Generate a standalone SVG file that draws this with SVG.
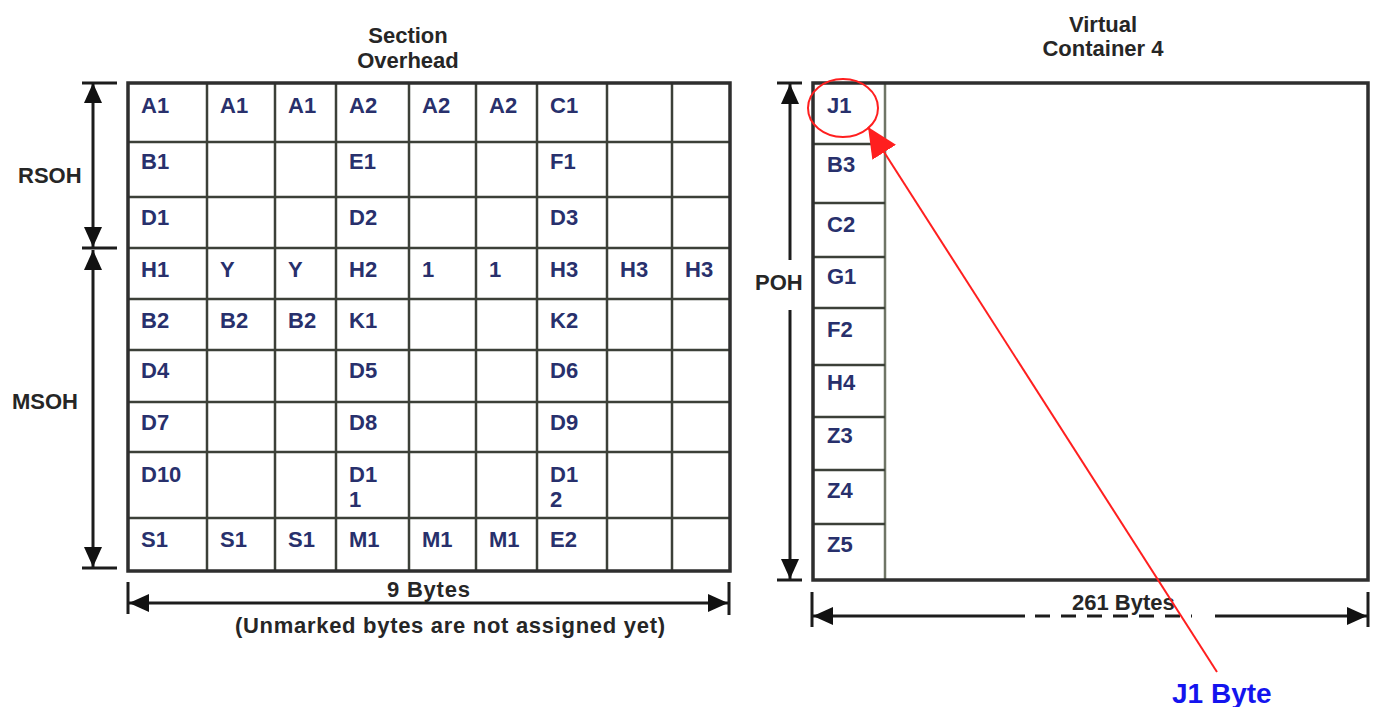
<svg xmlns="http://www.w3.org/2000/svg" width="1377" height="707" viewBox="0 0 1377 707">
  <style>
    text { font-family: "Liberation Sans", Arial, sans-serif; font-weight: bold; }
    .title { font-size: 22px; fill: #262626; }
    .cell { font-size: 22px; fill: #28306c; }
    .grid { stroke: #3c4038; stroke-width: 2.5; fill: none; }
    .frame { stroke: #2e2e2e; stroke-width: 3.5; fill: none; }
    .dim { stroke: #1c1c1c; stroke-width: 3; fill: none; }
    .pointer { stroke: #ff1f1f; stroke-width: 2; fill: none; }
  </style>
  <defs>
    <marker id="ah" viewBox="0 0 20 18" refX="20" refY="9" markerWidth="20" markerHeight="18" markerUnits="userSpaceOnUse" orient="auto-start-reverse">
      <path d="M0,0 L20,9 L0,18 z" fill="#111"/>
    </marker>
    <marker id="ahRed" viewBox="0 0 30 28" refX="30" refY="14" markerWidth="30" markerHeight="28" markerUnits="userSpaceOnUse" orient="auto">
      <path d="M0,0 L30,14 L0,28 z" fill="#ff1f1f"/>
    </marker>
  </defs>
  <rect width="1377" height="707" fill="#ffffff"/>

  <!-- Section overhead: 9 x 9 byte grid -->
  <g id="section-overhead">
    <text class="title" x="408" y="43" text-anchor="middle">Section</text>
    <text class="title" x="408" y="68" text-anchor="middle">Overhead</text>
    <g class="grid">
      <path d="M207,83V571M275,83V571M336,83V571M409,83V571M476,83V571M537,83V571M607,83V571M672,83V571"/>
      <path d="M128,142H730M128,197H730M128,248H730M128,299H730M128,350H730M128,402H730M128,452H730M128,518H730"/>
    </g>
    <rect class="frame" x="128" y="83" width="602" height="488"/>
    <g class="cell">
      <text x="141" y="113">A1</text><text x="220" y="113">A1</text><text x="288" y="113">A1</text>
      <text x="349" y="113">A2</text><text x="422" y="113">A2</text><text x="489" y="113">A2</text>
      <text x="550" y="113">C1</text>
      <text x="141" y="169">B1</text><text x="349" y="169">E1</text><text x="550" y="169">F1</text>
      <text x="141" y="225">D1</text><text x="349" y="225">D2</text><text x="550" y="225">D3</text>
      <text x="141" y="277">H1</text><text x="220" y="277">Y</text><text x="288" y="277">Y</text>
      <text x="349" y="277">H2</text><text x="422" y="277">1</text><text x="489" y="277">1</text>
      <text x="550" y="277">H3</text><text x="620" y="277">H3</text><text x="685" y="277">H3</text>
      <text x="141" y="328">B2</text><text x="220" y="328">B2</text><text x="288" y="328">B2</text>
      <text x="349" y="328">K1</text><text x="550" y="328">K2</text>
      <text x="141" y="378">D4</text><text x="349" y="378">D5</text><text x="550" y="378">D6</text>
      <text x="141" y="430">D7</text><text x="349" y="430">D8</text><text x="550" y="430">D9</text>
      <text x="141" y="482">D10</text>
      <text x="349" y="482">D1</text><text x="349" y="507">1</text>
      <text x="550" y="482">D1</text><text x="550" y="507">2</text>
      <text x="141" y="547">S1</text><text x="220" y="547">S1</text><text x="288" y="547">S1</text>
      <text x="349" y="547">M1</text><text x="422" y="547">M1</text><text x="489" y="547">M1</text>
      <text x="550" y="547">E2</text>
    </g>
  </g>

  <!-- Virtual container 4 with its path overhead column -->
  <g id="virtual-container-4">
    <text class="title" x="1103" y="32" text-anchor="middle">Virtual</text>
    <text class="title" x="1103" y="56" text-anchor="middle">Container 4</text>
    <path d="M885,83V580" stroke="#6f7566" stroke-width="2.5" fill="none"/>
    <path class="grid" d="M813,144H885M813,203H885M813,257H885M813,308H885M813,365H885M813,417H885M813,470H885M813,524H885"/>
    <rect class="frame" x="813" y="83" width="555" height="497"/>
    <g class="cell">
      <text x="827" y="113">J1</text>
      <text x="827" y="172">B3</text>
      <text x="827" y="232">C2</text>
      <text x="827" y="284">G1</text>
      <text x="827" y="337">F2</text>
      <text x="827" y="390">H4</text>
      <text x="827" y="443">Z3</text>
      <text x="827" y="498">Z4</text>
      <text x="827" y="552">Z5</text>
    </g>
  </g>

  <!-- Dimension labels -->
  <g id="labels">
    <text class="title" x="18" y="183">RSOH</text>
    <text class="title" x="12" y="409">MSOH</text>
    <text class="title" x="755" y="290">POH</text>
    <text class="title" x="387" y="597" textLength="83">9 Bytes</text>
    <text class="title" x="235" y="633" textLength="430">(Unmarked bytes are not assigned yet)</text>
    <text class="title" x="1072" y="610">261 Bytes</text>
    <text x="1172" y="703" font-size="28" fill="#1414ee">J1 Byte</text>
  </g>

  <!-- Connectors: dimension arrows and the J1 pointer -->
  <g id="connectors">
    <g class="dim">
      <!-- RSOH / MSOH -->
      <path d="M82,83H117M82,248H117M82,568H117"/>
      <line x1="93" y1="83" x2="93" y2="247" marker-start="url(#ah)" marker-end="url(#ah)"/>
      <line x1="93" y1="250" x2="93" y2="567" marker-start="url(#ah)" marker-end="url(#ah)"/>
      <!-- POH -->
      <path d="M777,83H802M777,580H802"/>
      <line x1="790" y1="84" x2="790" y2="260" marker-start="url(#ah)"/>
      <line x1="790" y1="310" x2="790" y2="579" marker-end="url(#ah)"/>
      <!-- 9 bytes -->
      <path d="M128,582V614M729,582V615"/>
      <line x1="129" y1="603" x2="728" y2="603" marker-start="url(#ah)" marker-end="url(#ah)"/>
      <!-- 261 bytes -->
      <path d="M812,592V627M1368,592V627"/>
      <line x1="813" y1="616" x2="1025" y2="616" marker-start="url(#ah)"/>
      <line x1="1035" y1="616" x2="1192" y2="616" stroke-dasharray="15 11"/>
      <line x1="1215" y1="616" x2="1367" y2="616" marker-end="url(#ah)"/>
    </g>
    <ellipse class="pointer" cx="843" cy="108" rx="35" ry="29"/>
    <line class="pointer" x1="1217" y1="672" x2="868" y2="127" marker-end="url(#ahRed)"/>
  </g>
</svg>
